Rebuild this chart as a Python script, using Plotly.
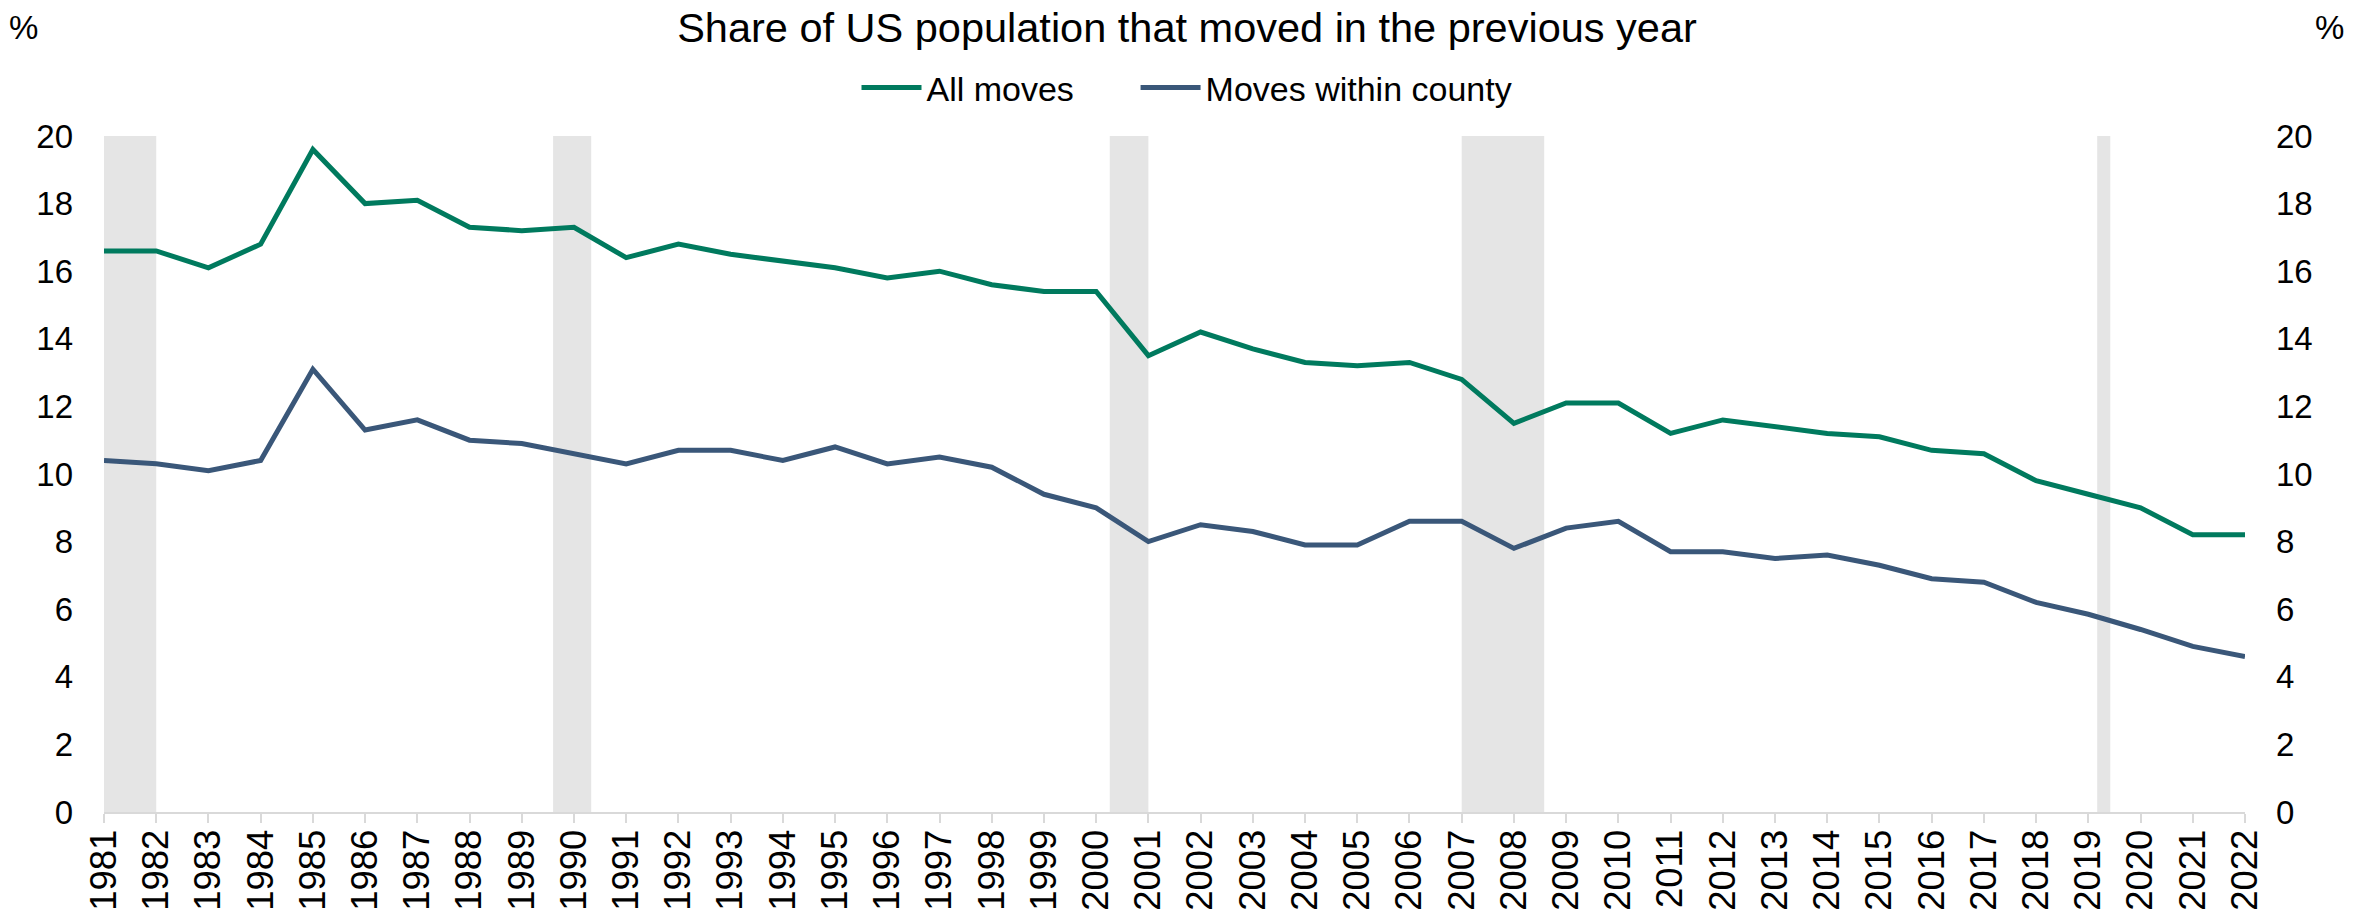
import plotly.graph_objects as go

years = list(range(1981, 2023))
all_moves = [16.6, 16.6, 16.1, 16.8, 19.6, 18.0, 18.1, 17.3, 17.2, 17.3,
             16.4, 16.8, 16.5, 16.3, 16.1, 15.8, 16.0, 15.6, 15.4, 15.4,
             13.5, 14.2, 13.7, 13.3, 13.2, 13.3, 12.8, 11.5, 12.1, 12.1,
             11.2, 11.6, 11.4, 11.2, 11.1, 10.7, 10.6, 9.8, 9.4, 9.0,
             8.2, 8.2]
within_county = [10.4, 10.3, 10.1, 10.4, 13.1, 11.3, 11.6, 11.0, 10.9, 10.6,
                 10.3, 10.7, 10.7, 10.4, 10.8, 10.3, 10.5, 10.2, 9.4, 9.0,
                 8.0, 8.5, 8.3, 7.9, 7.9, 8.6, 8.6, 7.8, 8.4, 8.6,
                 7.7, 7.7, 7.5, 7.6, 7.3, 6.9, 6.8, 6.2, 5.85, 5.4,
                 4.9, 4.6]
recession_start = [1981.0, 1989.6, 2000.26, 2007.0, 2019.17]
recession_end = [1982.0, 1990.33, 2001.0, 2008.58, 2019.42]
y_ticks = list(range(0, 21, 2))

GREEN = "#007A5E"
BLUE = "#3A5779"
FONT = "Liberation Sans, Arial, sans-serif"

fig = go.Figure()
fig.add_trace(go.Scatter(x=years, y=all_moves, mode="lines",
                         name="All moves" + "\u00a0" * 6,
                         line=dict(color=GREEN, width=5), yaxis="y"))
fig.add_trace(go.Scatter(x=years, y=within_county, mode="lines", name="Moves within county",
                         line=dict(color=BLUE, width=5), yaxis="y2"))

shapes = []
for s, e in zip(recession_start, recession_end):
    shapes.append(dict(type="rect", xref="x", yref="y", x0=s, x1=e, y0=0, y1=20,
                       fillcolor="#E5E5E5", line=dict(width=0), layer="below"))

L, R, T, B = 104, 129, 136, 100
W, H = 2374, 912
pw = W - L - R
ph = H - T - B

fig.update_layout(
    width=W, height=H,
    margin=dict(l=L, r=R, t=T, b=B, pad=0, autoexpand=False),
    paper_bgcolor="white", plot_bgcolor="white",
    font=dict(family=FONT, color="black", size=33),
    title=dict(text="Share of US population that moved in the previous year",
               x=0.5, xanchor="center", y=1 - 27 / H, yanchor="middle",
               yref="container", font=dict(size=41.5, family=FONT, color="black")),
    legend=dict(orientation="h", x=0.5, xanchor="center", xref="container",
                y=1 - 88 / H, yanchor="middle", yref="container",
                font=dict(size=34, family=FONT, color="black"),
                itemwidth=60, tracegroupgap=0,
                bgcolor="rgba(0,0,0,0)"),
    showlegend=True,
    shapes=shapes,
    xaxis=dict(range=[1981, 2022], tickmode="array", tickvals=years,
               ticktext=[str(y) for y in years], tickangle=-90,
               showgrid=False, zeroline=False, showline=True, automargin=False,
               linecolor="#D9D9D9", linewidth=2, ticklabelstandoff=-8,
               ticks="outside", ticklen=9, tickwidth=2, tickcolor="#D9D9D9",
               tickfont=dict(size=36.5, family=FONT, color="black")),
    yaxis=dict(range=[0, 20], tickvals=y_ticks, showgrid=False, zeroline=False,
               showline=False, ticks="", ticklabelstandoff=30, automargin=False,
               tickfont=dict(size=33, family=FONT, color="black")),
    yaxis2=dict(range=[0, 20], tickvals=y_ticks, showgrid=False, zeroline=False,
                showline=False, ticks="", overlaying="y", side="right",
                ticklabelstandoff=30, automargin=False,
                tickfont=dict(size=33, family=FONT, color="black")),
    annotations=[
        dict(text="%", xref="paper", yref="paper", x=(23 - L) / pw, y=(H - B - 27) / ph,
             xanchor="center", yanchor="middle", showarrow=False,
             font=dict(size=33, family=FONT, color="black")),
        dict(text="%", xref="paper", yref="paper", x=(2329 - L) / pw, y=(H - B - 27) / ph,
             xanchor="center", yanchor="middle", showarrow=False,
             font=dict(size=33, family=FONT, color="black")),
    ],
)

fig.write_html("out.html", config={"displayModeBar": False},
               post_script="document.body.style.margin='0';document.body.style.overflow='hidden';")
